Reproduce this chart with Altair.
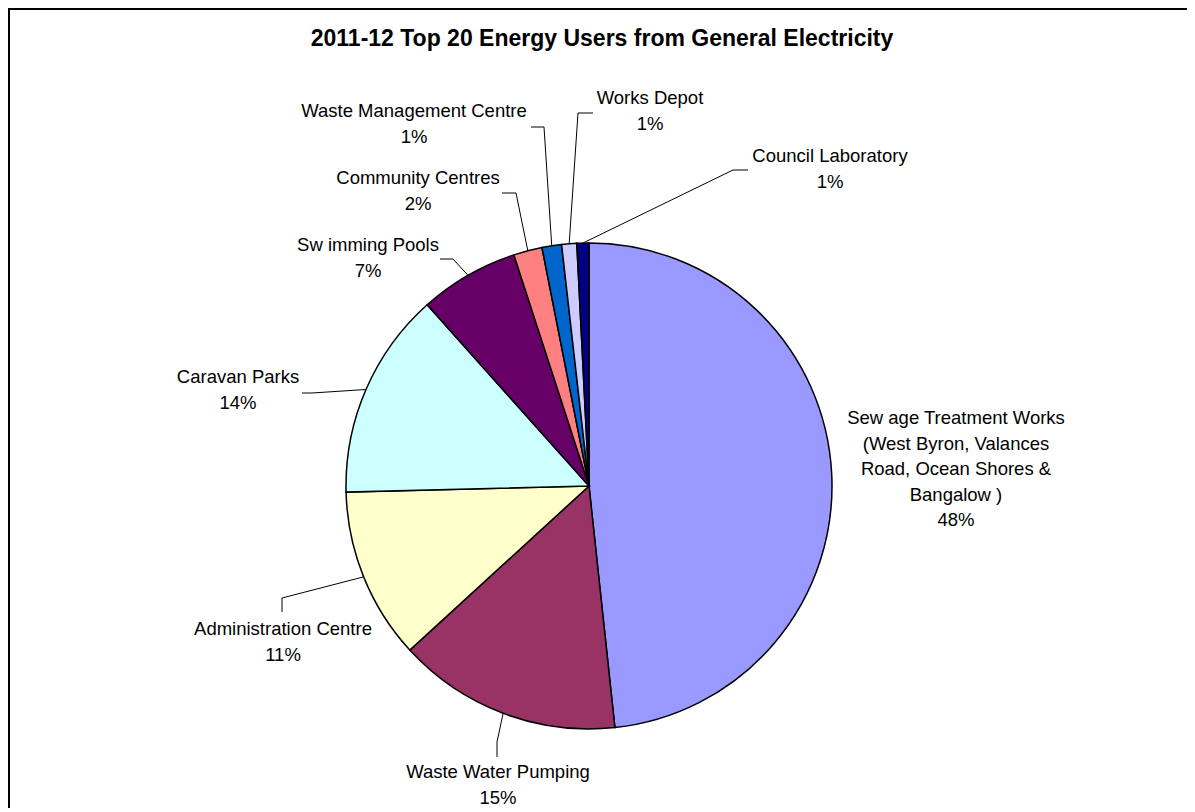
import math
import altair as alt
import pandas as pd

# ---------------- data ----------------
categories = [
    "Sewage Treatment Works",
    "Waste Water Pumping",
    "Administration Centre",
    "Caravan Parks",
    "Swimming Pools",
    "Community Centres",
    "Waste Management Centre",
    "Works Depot",
    "Council Laboratory",
]
values = [48.3, 14.9, 11.4, 13.8, 6.6, 1.9, 1.3, 1.0, 0.8]
label_names = [
    "Sew age Treatment Works\n(West Byron, Valances\nRoad, Ocean Shores &\nBangalow )",
    "Waste Water Pumping",
    "Administration Centre",
    "Caravan Parks",
    "Sw imming Pools",
    "Community Centres",
    "Waste Management Centre",
    "Works Depot",
    "Council Laboratory",
]
colors = ["#9999FF", "#993366", "#FFFFCC", "#CCFFFF", "#660066",
          "#FF8080", "#0066CC", "#CCCCFF", "#000080"]
title_text = "2011-12 Top 20 Energy Users from General Electricity"

# ---------------- layout (page pixels) ----------------
W, H = 1179, 800
CX, CY, R = 589, 486, 243
# label anchor: centre x, first baseline y
label_anchor = [(956, 424), (498, 778), (283, 635), (238, 383), (368, 251),
                (418, 184), (414, 117), (650, 104), (830, 162)]
# leader: label end point, elbow point (None = no leader)
leader_pts = [None,
              ((497, 757), (497, 742)),
              ((282, 612), (282, 598)),
              ((302, 393), (312, 393)),
              ((440, 259), (453, 259)),
              ((502, 193), (516, 193)),
              ((531, 127), (544, 127)),
              ((593, 113), (578, 113)),
              ((748, 170), (733, 170))]

total = sum(values)
df = pd.DataFrame({"cat": categories, "value": values, "idx": range(len(values))})

# labels
lab_rows = []
for i, c in enumerate(categories):
    pct = round(values[i] / total * 100)
    lab_rows.append({"cat": c, "x": label_anchor[i][0], "y": label_anchor[i][1],
                     "text": f"{label_names[i]}\n{pct}%"})
lab_df = pd.DataFrame(lab_rows)

# leader lines: label end -> elbow -> slice edge at mid angle
lead_rows = []
cum = 0.0
for i, c in enumerate(categories):
    mid = (cum + values[i] / 2) / total * 2 * math.pi
    cum += values[i]
    if leader_pts[i] is None:
        continue
    ex, ey = CX + R * math.sin(mid), CY - R * math.cos(mid)
    pts = [leader_pts[i][0], leader_pts[i][1], (ex, ey)]
    for s, (px, py) in enumerate(pts):
        lead_rows.append({"cat": c, "seq": s, "x": px, "y": py})
lead_df = pd.DataFrame(lead_rows)

title_df = pd.DataFrame({"x": [602], "y": [46], "text": [title_text]})

xs = alt.Scale(domain=[8, 8 + W], range=[0, W], nice=False, zero=False)
ys = alt.Scale(domain=[8, 8 + H], range=[0, H], nice=False, zero=False)

pie = alt.Chart(df).mark_arc(outerRadius=R, stroke="black", strokeWidth=1.5).encode(
    theta=alt.Theta("value:Q", stack=True),
    order=alt.Order("idx:Q"),
    color=alt.Color("cat:N", scale=alt.Scale(domain=categories, range=colors), legend=None),
    x=alt.value(CX - 8),
    y=alt.value(CY - 8),
)

leaders = alt.Chart(lead_df).mark_line(color="black", strokeWidth=1).encode(
    x=alt.X("x:Q", scale=xs, axis=None),
    y=alt.Y("y:Q", scale=ys, axis=None),
    detail="cat:N",
    order="seq:Q",
)

labels = alt.Chart(lab_df).mark_text(
    font="Liberation Sans", fontSize=18.5, lineBreak="\n", lineHeight=25.5,
    align="center", baseline="alphabetic", color="black",
).encode(
    x=alt.X("x:Q", scale=xs, axis=None),
    y=alt.Y("y:Q", scale=ys, axis=None),
    text="text:N",
)

title = alt.Chart(title_df).mark_text(
    font="Liberation Sans", fontSize=23, fontWeight="bold",
    align="center", baseline="alphabetic", color="black",
).encode(
    x=alt.X("x:Q", scale=xs, axis=None),
    y=alt.Y("y:Q", scale=ys, axis=None),
    text="text:N",
)

border_top = alt.Chart(title_df).mark_rule(color="black", strokeWidth=2).encode(
    x=alt.value(0), x2=alt.value(W), y=alt.value(1))
border_left = alt.Chart(title_df).mark_rule(color="black", strokeWidth=2).encode(
    x=alt.value(1), y=alt.value(0), y2=alt.value(H))

chart = alt.layer(border_top, border_left, pie, leaders, labels, title).properties(
    width=W, height=H, padding=0, autosize=alt.AutoSizeParams(type="none"),
    background="white",
).configure_view(stroke=None)

chart.save("out.html", embed_options={"renderer": "svg", "actions": False})
